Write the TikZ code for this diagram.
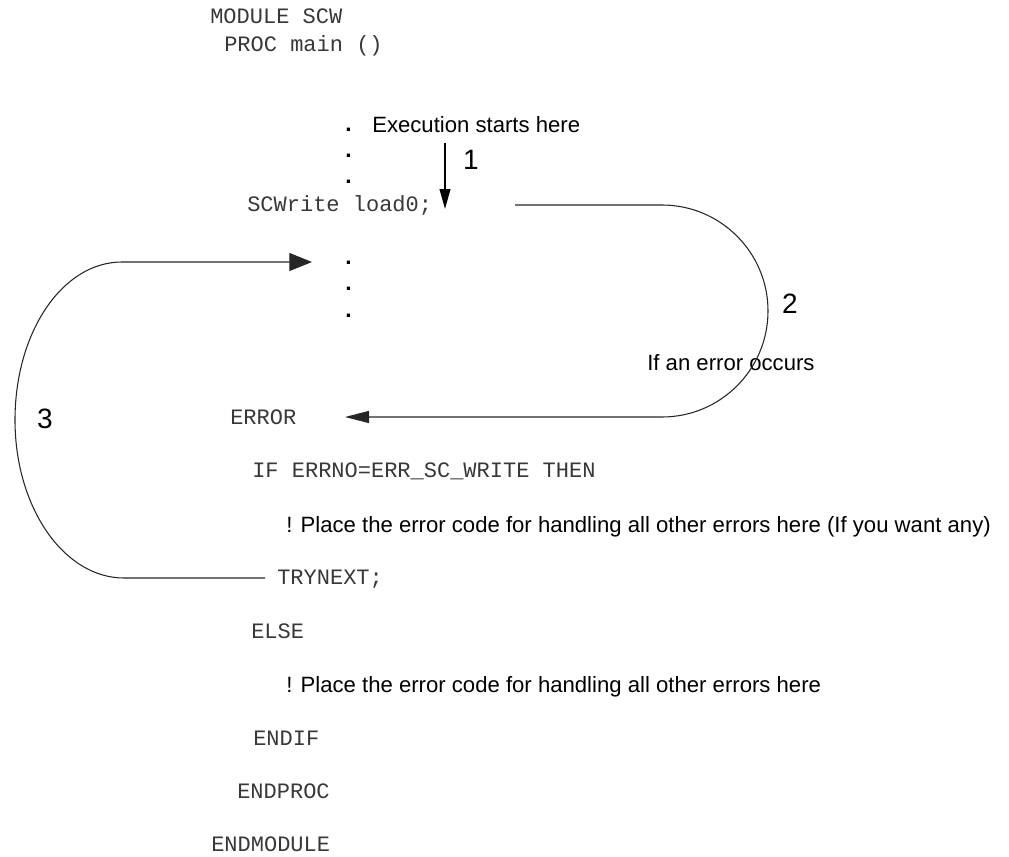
\documentclass[tikz,border=0pt]{standalone}
\usepackage{fontspec}
\setmainfont{Liberation Sans}
\setmonofont{Liberation Mono}
\usetikzlibrary{arrows.meta}
\tikzset{
  mono/.style={font=\ttfamily\fontsize{16.5}{18}\selectfont, anchor=base west, inner sep=0pt, text=black!78},
  sans/.style={font=\fontsize{16.6}{19}\selectfont, anchor=base west, inner sep=0pt},
  dotmark/.style={font=\bfseries\fontsize{17}{19}\selectfont, anchor=base west, inner sep=0pt},
  num/.style={font=\fontsize{21}{23}\selectfont, anchor=center, inner sep=0pt},
  flow/.style={line width=0.8pt, draw=black!85},
  startarrow/.style={line width=1.5pt, -{Triangle[length=15pt,width=8pt]}},
}
\begin{document}
\begin{tikzpicture}[x=0.75pt,y=-0.75pt]
\useasboundingbox (0,0) rectangle (1009,856);
% code lines
\node[mono] (module) at (210,24) {MODULE SCW};
\node[mono] (proc) at (224,51) {PROC main ()};
\node[dotmark] (d1) at (345,131) {.};
\node[sans] (exec) at (372,132) {Execution starts here};
\node[dotmark] (d2) at (345,157) {.};
\node[dotmark] (d3) at (345,183) {.};
\node[mono] (scw) at (247,211) {SCWrite load0;};
\node[dotmark] (d4) at (345,264) {.};
\node[dotmark] (d5) at (345,290) {.};
\node[dotmark] (d6) at (345,317) {.};
\node[sans] (occ) at (647,370) {If an error occurs};
\node[mono] (err) at (230,424) {ERROR};
\node[mono] (ifl) at (252,477) {IF ERRNO=ERR\_SC\_WRITE THEN};
\node[sans] (pl1) at (286,532) {! Place the error code for handling all other errors here (If you want any)};
\node[mono] (try) at (277,584) {TRYNEXT;};
\node[mono] (els) at (251,638) {ELSE};
\node[sans] (pl2) at (286,692) {! Place the error code for handling all other errors here};
\node[mono] (endif) at (253,745) {ENDIF};
\node[mono] (endproc) at (237,798) {ENDPROC};
\node[mono] (endmod) at (211,851) {ENDMODULE};
% step numbers
\node[num] (n1) at (471,160) {1};
\node[num] (n2) at (790,304) {2};
\node[num] (n3) at (45,419) {3};
% connector ends
\coordinate (a1s) at (445,143);
\coordinate (a1e) at (445,209);
\coordinate (r0) at (515,205);
\coordinate (rtip) at (345,417);
\coordinate (l0) at (265,578);
\coordinate (ltip) at (312,262);
% 1: execution start
\draw[startarrow] (a1s) -- (a1e);
% 2: error jump
\draw[flow, -{Triangle[length=18pt,width=9pt]}] (r0) -- (662,205)
  .. controls (720.5,205) and (768,252.5) .. (768,311)
  .. controls (768,369.5) and (720.5,417) .. (662,417) -- (rtip);
% 3: trynext
\draw[flow, -{Triangle[length=17pt,width=13.5pt]}] (l0) -- (124,578)
  .. controls (63.8,578) and (15,507.3) .. (15,420)
  .. controls (15,332.7) and (62,262) .. (122,262) -- (ltip);
\end{tikzpicture}
\end{document}
